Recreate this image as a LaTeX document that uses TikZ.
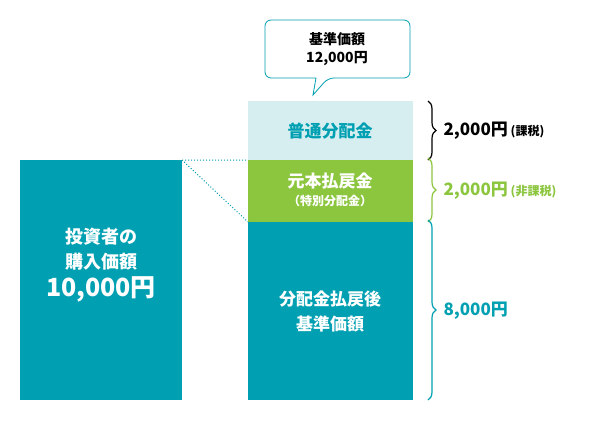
\documentclass[tikz,border=0pt]{standalone}
\usepackage{fontspec}
\setmainfont{Noto Sans CJK JP}
\usetikzlibrary{decorations.pathreplacing}
\definecolor{teal1}{HTML}{00A0B2}
\definecolor{lblue}{HTML}{D7EEF1}
\definecolor{lgreen}{HTML}{8CC63F}
\begin{document}
\begin{tikzpicture}[x=1pt,y=-1pt,
  brc/.style={decorate,decoration={brace,amplitude=8pt},line width=1.2pt}]
\useasboundingbox[fill=white] (0,0) rectangle (600,421);
\fill[teal1] (20,160) rectangle (182,400);
\node[text=white,align=center,font=\bfseries\fontsize{18}{25}\selectfont] (buy) at (101,265) {投資者の\\購入価額\\[3pt]{\fontsize{25}{28}\selectfont 10,000円}};
\coordinate (lt) at (182,160);
\fill[lblue] (248,101) rectangle (413,160);
\fill[lgreen] (248,160) rectangle (413,222);
\fill[teal1] (248,222) rectangle (413,400);
\coordinate (r1) at (248,160);
\coordinate (r2) at (248,222);
\draw[teal1,dotted,line width=1pt] (lt) -- (r1) (lt) -- (r2);
\node[text=teal1,font=\bfseries\fontsize{17}{20}\selectfont] (a) at (330,131) {普通分配金};
\node[text=white,align=center,font=\bfseries\fontsize{17}{20}\selectfont] (b) at (330,190) {元本払戻金\\[-2pt]{\fontsize{12}{14}\selectfont（特別分配金）}};
\node[text=white,align=center,font=\bfseries\fontsize{17}{25}\selectfont] (c) at (330,311) {分配金払戻後\\基準価額};
\draw[teal1,line width=0.8pt,fill=white,rounded corners=6pt] (265,20) -- (410,20) -- (410,78) -- (328,78) [sharp corners]-- (313,95) -- (316,78) [rounded corners=6pt]-- (265,78) -- cycle;
\node[align=center,font=\bfseries\fontsize{14}{18}\selectfont] (call) at (337,49) {基準価額\\12,000円};
\coordinate (t1) at (428,101);\coordinate (t2) at (428,160);\coordinate (t3) at (428,222);\coordinate (t4) at (428,400);
\draw[brc,black] (t1) -- (t2);
\draw[brc,lgreen] ([yshift=2pt]t2) -- (t3);
\draw[brc,teal1] ([yshift=2pt]t3) -- (t4);
\node[anchor=west,font=\bfseries\fontsize{17}{20}\selectfont] (l1) at (440,131) {2,000円\,{\fontsize{12}{14}\selectfont (課税)}};
\node[anchor=west,text=lgreen,font=\bfseries\fontsize{17}{20}\selectfont] (l2) at (440,191) {2,000円\,{\fontsize{12}{14}\selectfont (非課税)}};
\node[anchor=west,text=teal1,font=\bfseries\fontsize{17}{20}\selectfont] (l3) at (440,311) {8,000円};
\end{tikzpicture}
\end{document}
